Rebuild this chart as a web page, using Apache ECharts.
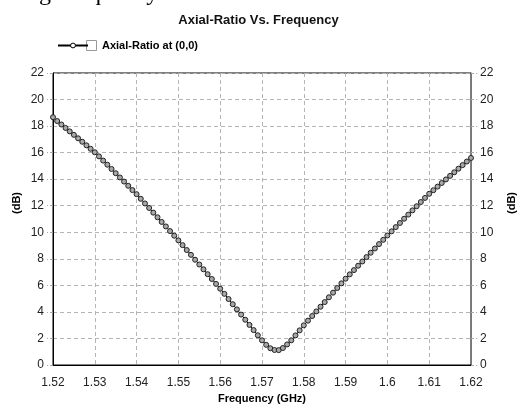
<!DOCTYPE html>
<html>
<head>
<meta charset="utf-8">
<script src="https://cdn.jsdelivr.net/npm/echarts@6/dist/echarts.min.js"></script>
<style>
  html, body { margin: 0; padding: 0; background: #fff; }
  #chart { width: 517px; height: 405px; }
</style>
</head>
<body>
<div id="chart"></div>
<script>
// Frequency sweep (GHz)
const freqGHz = [
  1.520, 1.521, 1.522, 1.523, 1.524, 1.525, 1.526, 1.527, 1.528, 1.529,
  1.530, 1.531, 1.532, 1.533, 1.534, 1.535, 1.536, 1.537, 1.538, 1.539,
  1.540, 1.541, 1.542, 1.543, 1.544, 1.545, 1.546, 1.547, 1.548, 1.549,
  1.550, 1.551, 1.552, 1.553, 1.554, 1.555, 1.556, 1.557, 1.558, 1.559,
  1.560, 1.561, 1.562, 1.563, 1.564, 1.565, 1.566, 1.567, 1.568, 1.569,
  1.570, 1.571, 1.572, 1.573, 1.574, 1.575, 1.576, 1.577, 1.578, 1.579,
  1.580, 1.581, 1.582, 1.583, 1.584, 1.585, 1.586, 1.587, 1.588, 1.589,
  1.590, 1.591, 1.592, 1.593, 1.594, 1.595, 1.596, 1.597, 1.598, 1.599,
  1.600, 1.601, 1.602, 1.603, 1.604, 1.605, 1.606, 1.607, 1.608, 1.609,
  1.610, 1.611, 1.612, 1.613, 1.614, 1.615, 1.616, 1.617, 1.618, 1.619,
  1.620
];

// Axial ratio at (0,0), dB
const axialRatioDb = [
  18.67, 18.38, 18.12, 17.86, 17.60, 17.34, 17.08, 16.82, 16.55, 16.29,
  16.03, 15.72, 15.40, 15.09, 14.77, 14.45, 14.13, 13.82, 13.50, 13.18,
  12.87, 12.52, 12.17, 11.83, 11.48, 11.13, 10.78, 10.44, 10.09, 9.74,
  9.39, 9.03, 8.66, 8.30, 7.93, 7.57, 7.21, 6.84, 6.48, 6.11,
  5.75, 5.36, 4.97, 4.58, 4.19, 3.80, 3.41, 3.02, 2.63, 2.24,
  1.86, 1.52, 1.26, 1.13, 1.12, 1.28, 1.55, 1.86, 2.23, 2.61,
  2.99, 3.34, 3.69, 4.04, 4.39, 4.74, 5.10, 5.45, 5.80, 6.15,
  6.50, 6.83, 7.15, 7.48, 7.80, 8.13, 8.46, 8.78, 9.11, 9.43,
  9.76, 10.07, 10.39, 10.70, 11.02, 11.33, 11.65, 11.96, 12.28, 12.59,
  12.90, 13.17, 13.44, 13.71, 13.98, 14.25, 14.52, 14.79, 15.06, 15.33,
  15.60
];

const seriesName = 'Axial-Ratio at (0,0)';
const chartTitle = 'Axial-Ratio Vs. Frequency';
const xAxisTitle = 'Frequency (GHz)';
const yAxisTitle = '(dB)';

const sans = '"Liberation Sans", Arial, sans-serif';
const chart = echarts.init(document.getElementById('chart'), null, { renderer: 'canvas' });

const gridDash = { color: '#b4b4b4', type: [4, 3], width: 1 };

function yAxisCfg(pos) {
  return {
    type: 'value',
    position: pos,
    min: 0, max: 22, interval: 2,
    axisLine: { show: true, lineStyle: { color: pos === 'left' ? '#000' : '#777', width: 1 } },
    axisTick: { show: true, length: 6, lineStyle: { color: '#aaa', type: [3, 2] } },
    axisLabel: { color: '#222', fontFamily: sans, fontSize: 12, margin: 9 },
    splitLine: { show: pos === 'left', lineStyle: gridDash }
  };
}

chart.setOption({
  animation: false,
  backgroundColor: '#fff',
  title: {
    text: chartTitle,
    left: 'center',
    top: 9,
    textStyle: { fontFamily: sans, fontSize: 13, fontWeight: 'bold', color: '#111' }
  },
  legend: {
    left: 52,
    top: 35,
    itemWidth: 30,
    itemHeight: 6,
    data: [seriesName],
    itemStyle: { color: '#fff', borderColor: '#000', borderWidth: 1 },
    textStyle: { fontFamily: sans, fontSize: 11, fontWeight: 'bold', color: '#000', padding: [0, 0, 0, 9] }
  },
  grid: {
    left: 53, right: 46, top: 73, bottom: 40,
    outerBoundsMode: 'none',
    show: true, borderColor: '#000', borderWidth: 1
  },
  xAxis: {
    type: 'value',
    min: 1.52, max: 1.62, interval: 0.01,
    name: xAxisTitle,
    nameLocation: 'middle',
    nameGap: 28,
    nameTextStyle: { fontFamily: sans, fontSize: 11, fontWeight: 'bold', color: '#000' },
    axisLine: { show: true, lineStyle: { color: '#000', width: 1 } },
    axisTick: { show: false },
    axisLabel: {
      color: '#222', fontFamily: sans, fontSize: 12, margin: 12,
      formatter: v => String(+v.toFixed(2))
    },
    splitLine: { show: true, lineStyle: gridDash }
  },
  yAxis: [yAxisCfg('left'), yAxisCfg('right')],
  series: [{
    name: seriesName,
    type: 'line',
    data: freqGHz.map((f, i) => [f, axialRatioDb[i]]),
    symbol: 'circle',
    symbolSize: 5,
    showSymbol: true,
    lineStyle: { color: '#000', width: 1 },
    itemStyle: { color: '#a8a8a8', borderColor: '#222', borderWidth: 1 },
    z: 5
  }],
  graphic: [
    // clipped caption line running off the top edge
    {
      type: 'text', x: 39, y: 6, silent: true,
      style: {
        text: 'g Frequency', font: '24px "Liberation Serif", "Times New Roman", serif',
        fill: '#000', align: 'left', verticalAlign: 'bottom'
      }
    },
    // legend check box
    {
      type: 'rect', shape: { x: 86.5, y: 40.5, width: 10, height: 10 }, silent: true,
      style: { fill: '#fff', stroke: '#999', lineWidth: 1 }
    },
    {
      type: 'text', x: 17, y: 203, rotation: Math.PI / 2, silent: true,
      style: { text: yAxisTitle, font: 'bold 11px ' + sans, fill: '#000', align: 'center', verticalAlign: 'middle' }
    },
    {
      type: 'text', x: 512, y: 203, rotation: Math.PI / 2, silent: true,
      style: { text: yAxisTitle, font: 'bold 11px ' + sans, fill: '#000', align: 'center', verticalAlign: 'middle' }
    }
  ]
});
</script>
</body>
</html>
